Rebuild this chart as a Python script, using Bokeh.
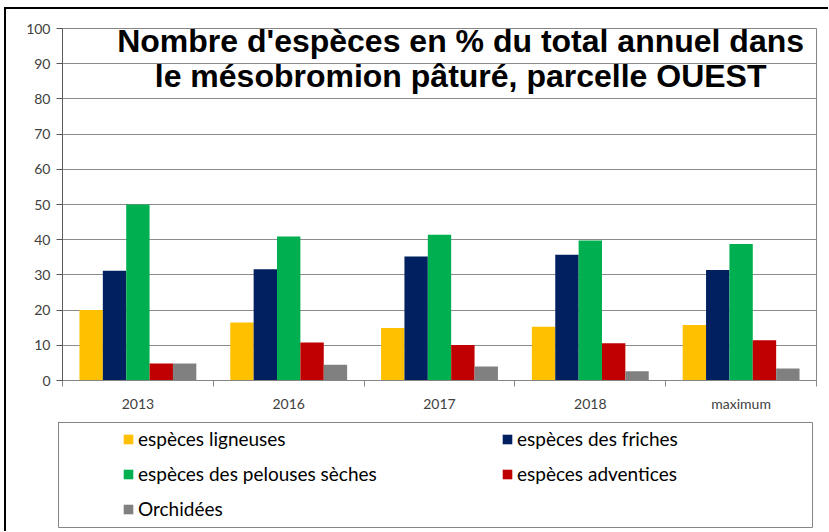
import numpy as np
from bokeh.plotting import figure
from bokeh.layouts import column
from bokeh.models import (ColumnDataSource, Legend, LegendItem, Label, FixedTicker)
from bokeh.transform import dodge
from bokeh.embed import file_html
from bokeh.resources import INLINE

categories = ["2013", "2016", "2017", "2018", "maximum"]
series_names = ["espèces ligneuses", "espèces des friches", "espèces des pelouses sèches",
                "espèces adventices", "Orchidées"]
ligneuses = [20.0, 16.5, 14.9, 15.3, 15.8]
friches = [31.2, 31.6, 35.2, 35.7, 31.4]
pelouses = [50.0, 40.9, 41.4, 39.8, 38.8]
adventices = [4.8, 10.8, 10.1, 10.6, 11.4]
orchidees = [4.8, 4.5, 4.0, 2.6, 3.4]
colors = ["#FFC000", "#002060", "#00B050", "#C00000", "#808080"]
y_ticks = list(range(0, 101, 10))
title_lines = ["Nombre d'espèces en % du total annuel dans",
               "le mésobromion pâturé, parcelle OUEST"]

series = [ligneuses, friches, pelouses, adventices, orchidees]
keys = ["s0", "s1", "s2", "s3", "s4"]
data = {"x": np.arange(len(categories)) + 0.5}
for k, v in zip(keys, series):
    data[k] = v
src = ColumnDataSource(data)

W = 822
p = figure(width=W, height=406, x_range=(0, len(categories)), y_range=(0, 100),
           output_backend="svg", toolbar_location=None,
           min_border_left=56, min_border_right=12, min_border_top=19, min_border_bottom=35)
p.outline_line_color = "#868686"
p.xgrid.grid_line_color = None
p.ygrid.grid_line_color = "#8c8c8c"
p.ygrid.ticker = FixedTicker(ticks=y_ticks)

bw = 0.155
renderers = []
for j, k in enumerate(keys):
    r = p.vbar(x=dodge("x", (j - 2) * bw), top=k, width=bw, source=src,
               fill_color=colors[j], line_color=None)
    renderers.append(r)

# y axis
p.yaxis.ticker = FixedTicker(ticks=y_ticks)
p.yaxis.axis_line_color = "#595959"
p.yaxis.major_tick_line_color = "#595959"
p.yaxis.major_tick_out = 6
p.yaxis.major_tick_in = 0
p.yaxis.minor_tick_line_color = None
p.yaxis.major_label_text_font = "Lato"
p.yaxis.major_label_text_font_size = "14px"
p.yaxis.major_label_text_color = "#404040"
p.yaxis.major_label_standoff = 6

# x axis: labels at centres, ticks at boundaries
xt = list(np.arange(len(categories)) + 0.5)
p.xaxis.ticker = FixedTicker(ticks=xt, minor_ticks=list(range(len(categories) + 1)))
p.xaxis.major_label_overrides = {float(t): c for t, c in zip(xt, categories)}
p.xaxis.axis_line_color = "#868686"
p.xaxis.major_tick_line_color = None
p.xaxis.minor_tick_line_color = "#868686"
p.xaxis.minor_tick_out = 6
p.xaxis.minor_tick_in = 0
p.xaxis.major_label_text_font = "Lato"
p.xaxis.major_label_text_font_size = "14px"
p.xaxis.major_label_text_color = "#404040"
p.xaxis.major_label_standoff = 8

# title
for i, t in enumerate(title_lines):
    p.add_layout(Label(x=2.64, y=96.4 - i * 9.9, text=t, text_align="center",
                       text_baseline="middle", text_font="Liberation Sans",
                       text_font_style="bold", text_font_size="32px", text_color="black"))

# legend panel: its frame outline is the legend box (proxy bars lie outside its ranges)
p2 = figure(width=W + 2, height=116, x_range=(100, 101), y_range=(-2, -1),
            x_axis_type=None, y_axis_type=None, output_backend="svg",
            toolbar_location=None, min_border_left=56, min_border_right=12,
            min_border_top=7, min_border_bottom=4, margin=(0, 0, 0, -4))
p2.outline_line_color = "#868686"
p2.border_fill_color = None
p2.background_fill_color = "white"
p2.grid.grid_line_color = None
swatches = [p2.vbar(x=dodge("x", (j - 2) * bw), top=k, width=bw, source=src,
                    fill_color=colors[j], line_color=None) for j, k in enumerate(keys)]
order = [0, 2, 4, 1, 3]
items = [LegendItem(label=series_names[i], renderers=[swatches[i]]) for i in order]
leg = Legend(items=items, location=(64, 7), ncols=2, padding=0, margin=0,
             glyph_width=12, glyph_height=12, label_standoff=4, label_width=351,
             label_height=22, spacing=12, border_line_alpha=0, background_fill_alpha=0,
             label_text_font="Lato", label_text_font_size="19px", label_text_color="black")
p2.add_layout(leg, "center")

layout = column(p, p2, spacing=0, margin=(7, 0, 0, 4),
                styles={"border-top": "2px solid black", "border-left": "2px solid black"})

open("out.html", "w").write(file_html(layout, INLINE))
